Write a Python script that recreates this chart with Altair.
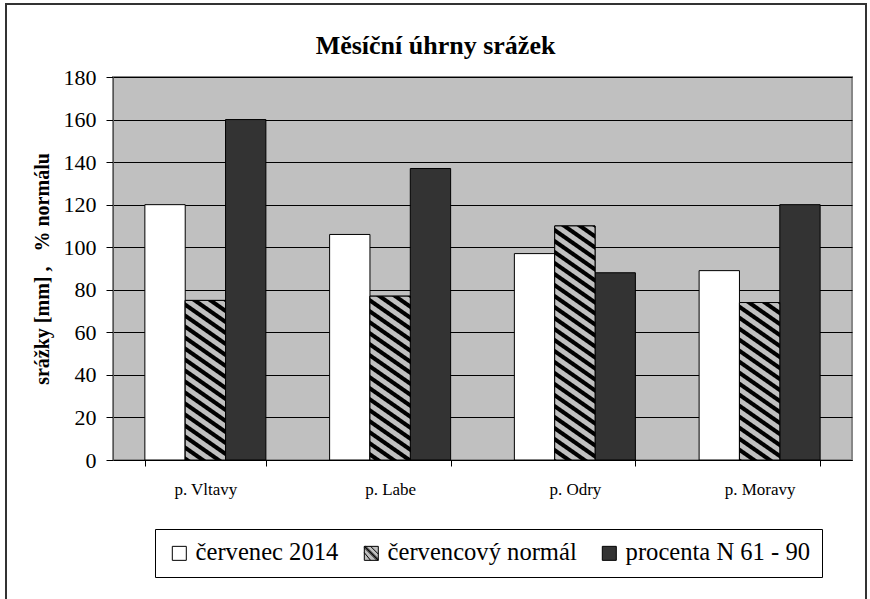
import altair as alt
import pandas as pd

# ---------------- data ----------------
regions = ["p. Vltavy", "p. Labe", "p. Odry", "p. Moravy"]
series = ["červenec 2014", "červencový normál", "procenta N 61 - 90"]
cervenec_2014 = [120, 106, 97, 89]
cervencovy_normal = [75, 77, 110, 74]
procenta_n = [160, 137, 88, 120]
y_ticks = [0, 20, 40, 60, 80, 100, 120, 140, 160, 180]

chart_title = "Měsíční úhrny srážek"
y_title = "srážky [mm] ,\u00a0\u00a0 % normálu"

rows = []
for vals, s in zip([cervenec_2014, cervencovy_normal, procenta_n], series):
    for r, v in zip(regions, vals):
        rows.append({"region": r, "series": s, "value": v})
df = pd.DataFrame(rows)

# ---------------- layout / style ----------------
W, H = 739, 383
PAD = {"left": 113, "top": 77, "right": 18, "bottom": 139}
YMAX = 180
PI = 0.345
PO = PI / 2
STEP = W / len(regions)
BAR_W = STEP * (1 - PI) / len(series)

FONT = "'Liberation Serif', 'Times New Roman', serif"
GRAY = "#c0c0c0"
BLACK = "#000000"


def hatch(value):
    """Diagonal black stripes on grey, as a linear gradient in bbox units."""
    h = value / YMAX * H
    w = BAR_W
    s = 0.7           # stripe slope
    P, bw, r = 11.0, 5.0, 0.6
    L = h + s * w
    k = L / (s * s * w * w + h * h)
    x2, y2 = 1 - k * s * w, k * h
    stops = []
    u0 = -3.0
    while u0 < L:
        for off, col in [(u0 + r, BLACK), (u0 + bw - r, BLACK),
                         (u0 + bw + r, GRAY), (u0 + P - r, GRAY)]:
            o = min(max(off / L, 0.0), 1.0)
            stops.append(alt.GradientStop(color=col, offset=o))
        u0 += P
    return alt.LinearGradient(gradient="linear", stops=stops,
                              x1=1, y1=0, x2=x2, y2=y2)


SQ = "M-1,-1H1V1H-1Z"
HATCH_SYM = ("M-1,-1H1V1H-1Z M-1,-1L1,1 M-1,-0.8L0.8,1 M-0.8,-1L1,0.8 "
             "M-1,-0.1L-0.1,1 M-0.1,-1L1,0.1")

x_enc = alt.X(
    "region:N", sort=regions,
    scale=alt.Scale(domain=regions, paddingInner=PI, paddingOuter=PO),
    axis=alt.Axis(title=None, labelFont=FONT, labelFontSize=17, labelColor="black",
                  labelAngle=0, labelPadding=15, tickSize=6, tickColor="black",
                  tickBand="extent", domainColor="black", domainWidth=1, grid=False),
)
xo_enc = alt.XOffset("series:N", sort=series,
                     scale=alt.Scale(domain=series, paddingInner=0, paddingOuter=0))
y_enc = alt.Y(
    "value:Q",
    scale=alt.Scale(domain=[0, YMAX], nice=False),
    axis=alt.Axis(values=y_ticks, title=y_title, titleFont=FONT, titleFontSize=20,
                  titleFontWeight="bold", titleColor="black", titlePadding=11,
                  labelFont=FONT, labelFontSize=22, labelColor="black", labelPadding=10,
                  tickSize=7, tickColor="black", domainColor="#555555",
                  grid=True, gridColor="black", gridWidth=1),
)

fill_scale = alt.Scale(domain=series, range=["#ffffff", GRAY, "#333333"])
shape_scale = alt.Scale(domain=series, range=[SQ, HATCH_SYM, SQ])
stroke_scale = alt.Scale(domain=series, range=["#000000", "#000000", "#000000"])
legend = alt.Legend(
    orient="none", legendX=42, legendY=452, direction="horizontal", title=None,
    strokeColor="black", fillColor="white", padding=12,
    labelFont=FONT, labelFontSize=24.6, labelColor="black", labelLimit=600,
    labelOffset=4, columnPadding=20, symbolSize=196, symbolStrokeColor="black",
    symbolStrokeWidth=1, symbolOpacity=1,
)

base = alt.Chart(df).encode(x=x_enc, xOffset=xo_enc, y=y_enc)

bars = base.mark_bar(stroke="black", strokeWidth=1).encode(
    fill=alt.Fill("series:N", scale=fill_scale, legend=legend)
)

hatched = []
for i, r in enumerate(regions):
    hatched.append(
        base.transform_filter(
            (alt.datum.region == r) & (alt.datum.series == series[1])
        ).mark_bar(fill=hatch(cervencovy_normal[i]), stroke="black", strokeWidth=1)
    )

legend_layer = base.mark_point(opacity=0, filled=True, strokeWidth=1).encode(
    fill=alt.Fill("series:N", scale=fill_scale, legend=legend),
    shape=alt.Shape("series:N", scale=shape_scale, legend=legend),
    stroke=alt.Stroke("series:N", scale=stroke_scale, legend=legend),
)

frame = alt.Chart(pd.DataFrame({"k": [0]})).mark_rect(
    fillOpacity=0, stroke="#333333", strokeWidth=2
).encode(x=alt.value(-107), x2=alt.value(753), y=alt.value(-73), y2=alt.value(540))

chart = alt.layer(frame, bars, *hatched, legend_layer).properties(
    width=W, height=H,
    padding=PAD,
    autosize=alt.AutoSizeParams(type="none"),
    title=alt.TitleParams(chart_title, font=FONT, fontSize=26, fontWeight="bold",
                          color="black", anchor="middle", dx=-47, dy=76, offset=20),
    background="white",
).configure_view(
    fill=GRAY, stroke="#888888", strokeWidth=2
)

chart.save("out.html", embed_options={"renderer": "svg", "actions": False})
